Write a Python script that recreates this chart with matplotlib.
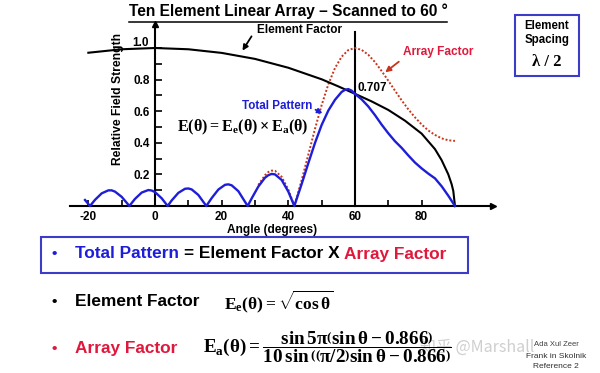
import matplotlib
matplotlib.use('Agg')
import matplotlib.pyplot as plt
from matplotlib.lines import Line2D
from matplotlib.patches import Rectangle

# ---------------- data ----------------
angles_total = [-21, -19.5, -18, -16, -14, -13, -12, -10, -8, -7.7,
                -6, -4, -2, -1, 0, 2, 3.8, 5, 7, 9,
                10, 11, 13, 15.4, 17, 19, 21, 22, 23, 25,
                27.8, 29, 31, 33, 34, 35, 36, 38, 40, 41.8,
                44, 46, 48, 50, 52, 54, 56, 57, 58, 59,
                60, 62, 64, 66, 68, 70, 72, 74, 76, 78,
                80, 82, 84, 86, 88, 90]
total_pattern = [0.038, 0, 0.039, 0.080, 0.099, 0.099, 0.091, 0.058, 0.008, 0,
                 0.045, 0.085, 0.101, 0.098, 0.088, 0.049, 0, 0.035, 0.083, 0.109,
                 0.111, 0.105, 0.070, 0, 0.050, 0.104, 0.134, 0.137, 0.131, 0.094,
                 0, 0.048, 0.123, 0.179, 0.195, 0.203, 0.200, 0.165, 0.091, 0,
                 0.139, 0.271, 0.399, 0.513, 0.604, 0.672, 0.722, 0.735, 0.740, 0.730,
                 0.710, 0.675, 0.630, 0.575, 0.515, 0.460, 0.410, 0.368, 0.320, 0.275,
                 0.238, 0.205, 0.175, 0.125, 0.065, 0]

angles_array = [31, 33, 34, 35, 36, 38, 40, 41.8, 44, 46,
                48, 50, 52, 54, 56, 58, 60, 62, 64, 66,
                68, 70, 72, 74, 76, 78, 80, 82, 84, 86,
                88, 90]
array_factor = [0.133, 0.195, 0.215, 0.224, 0.223, 0.185, 0.104, 0, 0.164, 0.325,
                0.488, 0.639, 0.770, 0.873, 0.945, 0.987, 1.0, 0.988, 0.957, 0.911,
                0.854, 0.793, 0.730, 0.669, 0.612, 0.561, 0.516, 0.478, 0.450, 0.428,
                0.416, 0.412]

angles_element = [-20, -10, 0, 10, 20, 30, 40, 50, 55, 60,
                  65, 70, 75, 80, 84, 86, 88, 89, 89.5, 90]
element_factor = [0.970, 0.992, 1.0, 0.992, 0.969, 0.931, 0.875, 0.802, 0.757, 0.710,
                  0.662, 0.608, 0.540, 0.458, 0.360, 0.290, 0.200, 0.138, 0.095, 0]

x_ticks = [-20, -10, 0, 10, 20, 30, 40, 50, 60, 70, 80]
x_tick_labels = ['-20', '', '0', '', '20', '', '40', '', '60', '', '80']
y_ticks = [0.1, 0.2, 0.3, 0.4, 0.5, 0.6, 0.7, 0.8, 0.9, 1.0]
y_tick_labels = ['', '0.2', '', '0.4', '', '0.6', '', '0.8', '', '']
top_label = '1.0'
scan_angle = 60
scan_value_label = '0.707'

# ---------------- style ----------------
plt.rcParams['font.family'] = ['Liberation Sans', 'DejaVu Sans']
plt.rcParams['font.weight'] = 'bold'
plt.rcParams['mathtext.fontset'] = 'custom'
plt.rcParams['mathtext.rm'] = 'Liberation Serif:bold'
plt.rcParams['mathtext.it'] = 'Liberation Serif:bold'
plt.rcParams['mathtext.bf'] = 'Liberation Serif:bold'

BLUE = '#1E1ED8'
RED_TXT = '#E0183C'
RED_DOT = '#C8341C'
BOX_BLUE = '#3C3CC8'

W, H = 600, 373
fig = plt.figure(figsize=(W / 100, H / 100), dpi=100)

# pixel mapping of the chart
X0, XS = 155.0, 3.333
Y0, YS = 206.0, 158.0
th_min, th_max = -26, 104
v_min, v_max = -0.06, 1.18
left = X0 + XS * th_min
right = X0 + XS * th_max
top = Y0 - YS * v_max
bottom = Y0 - YS * v_min
ax = fig.add_axes([left / W, 1 - bottom / H, (right - left) / W, (bottom - top) / H])
ax.set_xlim(th_min, th_max)
ax.set_ylim(v_min, v_max)
ax.patch.set_visible(False)
for s in ['top', 'right']:
    ax.spines[s].set_visible(False)
ax.spines['left'].set_position(('data', 0))
ax.spines['bottom'].set_position(('data', 0))
ax.spines['left'].set_bounds(0, 1.14)
ax.spines['bottom'].set_bounds(-25.5, 100.5)
for s in ['left', 'bottom']:
    ax.spines[s].set_linewidth(1.5)
ax.plot([0], [1.15], marker='^', ms=5, color='black', clip_on=False)
ax.plot([101.3], [0], marker='>', ms=5, color='black', clip_on=False)

ax.set_xticks(x_ticks)
ax.set_xticklabels(x_tick_labels)
ax.set_yticks(y_ticks)
ax.set_yticklabels(y_tick_labels)
ax.tick_params(axis='x', direction='in', length=4, width=1.2, pad=3.5, labelsize=8.5)
ax.tick_params(axis='y', direction='in', length=5, width=1.2, pad=4, labelsize=8.5)
for lbl in ax.get_xticklabels() + ax.get_yticklabels():
    lbl.set_fontweight('bold')
ax.text(-1.8, 1.03, top_label, ha='right', va='center', fontsize=8.5, fontweight='bold')

# scan line
ax.plot([scan_angle, scan_angle], [0, 1.10], color='black', lw=1.5, zorder=2)

ax.plot(angles_array, array_factor, color=RED_DOT, lw=1.4, ls=(0, (1, 1)), zorder=3)
ax.plot(angles_element, element_factor, color='black', lw=1.5, zorder=4)
ax.plot(angles_total, total_pattern, color=BLUE, lw=1.7, zorder=5)

# ---------------- overlay (pixel coordinates) ----------------
ov = fig.add_axes([0, 0, 1, 1], zorder=10)
ov.set_xlim(0, W)
ov.set_ylim(H, 0)
ov.axis('off')
ov.patch.set_visible(False)
renderer = fig.canvas.get_renderer()

# title with underline
t = ov.text(288, 11, 'Ten Element Linear Array \u2013 Scanned to 60 \u00b0', ha='center', va='center',
            fontsize=11.2, fontweight='bold')
bb = t.get_window_extent(renderer=renderer)
ov.add_line(Line2D([bb.x0, bb.x1], [21.5, 21.5], color='black', lw=1.1))

# chart annotations
ov.text(257, 30, 'Element Factor', ha='left', va='center', fontsize=8.5)
ov.annotate('', xy=(241, 53), xytext=(253, 34),
            arrowprops=dict(arrowstyle='-|>', color='black', lw=1.3, mutation_scale=8))
ov.text(403, 52, 'Array Factor', ha='left', va='center', fontsize=8.6, color=RED_TXT)
ov.annotate('', xy=(383, 74), xytext=(401, 60),
            arrowprops=dict(arrowstyle='-|>', color=RED_DOT, lw=1.3, mutation_scale=8))
ov.text(358, 88, scan_value_label, ha='left', va='center', fontsize=8.5)
ov.text(242, 106, 'Total Pattern', ha='left', va='center', fontsize=8.4, color=BLUE)
ov.annotate('', xy=(325, 114.5), xytext=(313, 108.5),
            arrowprops=dict(arrowstyle='-|>', color=BLUE, lw=1.3, mutation_scale=7))
ov.text(243, 127, r'$E(\theta) = E_e(\theta) \times E_a(\theta)$', ha='center', va='center', fontsize=11.6)
ov.text(118, 99, 'Relative Field Strength', rotation=90, ha='center', va='center', fontsize=8.7)
ov.text(272, 230, 'Angle (degrees)', ha='center', va='center', fontsize=8.6)

# element spacing box
ov.add_patch(Rectangle((515, 14.5), 64, 61.5, fill=False, edgecolor=BOX_BLUE, lw=1.5))
ov.text(547, 26, 'Element', ha='center', va='center', fontsize=8.3)
ov.text(547, 40.5, 'Spacing', ha='center', va='center', fontsize=8.3)
ov.text(547, 61.5, '\u03bb / 2', ha='center', va='center', fontsize=12,
        family='Liberation Serif', fontweight='bold')

# bottom blue box
ov.add_patch(Rectangle((41, 236.5), 427, 36, fill=False, edgecolor=BOX_BLUE, lw=1.5))


def seq_text(x, y, parts, size):
    sp_a = ov.text(0, 0, 'x x', fontsize=size)
    sp_b = ov.text(0, 0, 'xx', fontsize=size)
    space = sp_a.get_window_extent(renderer).width - sp_b.get_window_extent(renderer).width
    sp_a.remove()
    sp_b.remove()
    for s, c in parts:
        if s == ' ':
            x += space
            continue
        tt = ov.text(x, y, s, color=c, ha='left', va='center', fontsize=size, fontweight='bold')
        x += tt.get_window_extent(renderer).width


ov.text(54, 254, '\u2022', color=BLUE, ha='center', va='center', fontsize=11)
seq_text(75, 254, [('Total Pattern', BLUE), (' ', None), ('= Element Factor X', 'black'),
                   (' ', None), ('Array Factor', RED_TXT)], 12.4)

ov.text(54, 302, '\u2022', color='black', ha='center', va='center', fontsize=11)
ov.text(75, 302, 'Element Factor', color='black', ha='left', va='center', fontsize=12.4)
ov.text(224, 302, r'$E_e(\theta) = \sqrt{\cos\theta}$', ha='left', va='center', fontsize=12.6)

ov.text(54, 349, '\u2022', color=RED_TXT, ha='center', va='center', fontsize=11)
ov.text(75, 349, 'Array Factor', color=RED_TXT, ha='left', va='center', fontsize=12.4)
ov.text(203, 347,
        r'$E_a(\theta) = \dfrac{\sin 5\pi\left(\sin\theta - 0.866\right)}'
        r'{10\,\sin\left(\left(\pi/2\right)\sin\theta - 0.866\right)}$',
        ha='left', va='center', fontsize=13.8)

# watermark (drawn faintly over the slide, as in the reference) and reference note
ov.text(420, 347, '\u77e5\u4e4e @Marshall', ha='left', va='center', fontsize=11.5,
        color='#CFCFCF', fontweight='normal', family=['Noto Sans CJK SC', 'DejaVu Sans'], zorder=1)
ov.text(556, 345, 'Ada Xul Zeer', ha='center', va='center', fontsize=5.5, color='#404040',
        fontweight='normal')
ov.text(556, 356, 'Frank in Skolnik', ha='center', va='center', fontsize=6, color='#303030',
        fontweight='normal')
ov.text(556, 367, 'Reference 2', ha='center', va='center', fontsize=6, color='#303030',
        fontweight='normal')

fig.savefig('out.png', dpi=100)
